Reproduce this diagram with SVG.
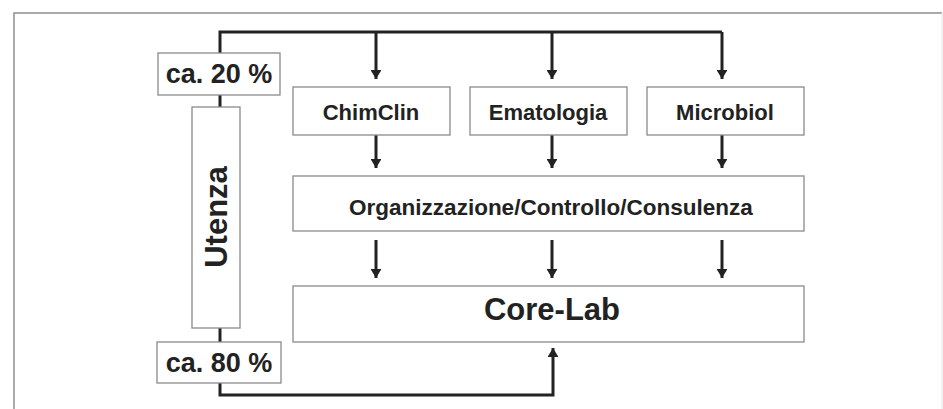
<svg xmlns="http://www.w3.org/2000/svg" width="943" height="409" viewBox="0 0 943 409">
<defs>
<style>
.box{fill:#fff;stroke:#8a8a8a;stroke-width:1.3}
.t{font-family:"Liberation Sans",Arial,sans-serif;font-weight:bold;fill:#222;text-anchor:middle}
.c{fill:none;stroke:#222;stroke-width:3}
</style>
<marker id="ah" viewBox="0 0 10 12" refX="10" refY="6" markerWidth="4" markerHeight="3.6" markerUnits="strokeWidth" orient="auto">
<path d="M0,0 L10,6 L0,12 z" fill="#222"/>
</marker>
</defs>
<rect width="943" height="409" fill="#fff"/>
<path d="M14,409 V13 H942" fill="none" stroke="#8f8f8f" stroke-width="1.5"/>
<path d="M942,13 V409" fill="none" stroke="#e4e4e4" stroke-width="1"/>
<g id="connectors">
<path class="c" d="M220,95 V32 H722"/>
<path class="c" d="M376,32 V79" marker-end="url(#ah)"/>
<path class="c" d="M552,32 V79" marker-end="url(#ah)"/>
<path class="c" d="M722,32 V79" marker-end="url(#ah)"/>
<path class="c" d="M376,135 V168" marker-end="url(#ah)"/>
<path class="c" d="M552,135 V168" marker-end="url(#ah)"/>
<path class="c" d="M722,135 V168" marker-end="url(#ah)"/>
<path class="c" d="M376,240 V278" marker-end="url(#ah)"/>
<path class="c" d="M552,240 V278" marker-end="url(#ah)"/>
<path class="c" d="M722,240 V278" marker-end="url(#ah)"/>
<path class="c" d="M220,95 V107"/>
<path class="c" d="M220,328 V342"/>
<path class="c" d="M220,383 V395 H553 V348" marker-end="url(#ah)"/>
</g>
<g id="n20"><rect class="box" x="158" y="53" width="122" height="42"/><text class="t" x="219" y="83" font-size="27">ca. 20 %</text></g>
<g id="utenza"><rect class="box" x="192" y="107" width="48" height="221"/><text class="t" transform="translate(227,217) rotate(-90)" font-size="31">Utenza</text></g>
<g id="n80"><rect class="box" x="157" y="342" width="124" height="41"/><text class="t" x="219" y="372" font-size="27">ca. 80 %</text></g>
<g id="chimclin"><rect class="box" x="293" y="87" width="157" height="48"/><text class="t" x="371" y="120" font-size="22">ChimClin</text></g>
<g id="ematologia"><rect class="box" x="470" y="87" width="157" height="48"/><text class="t" x="548" y="120" font-size="22">Ematologia</text></g>
<g id="microbiol"><rect class="box" x="647" y="87" width="157" height="48"/><text class="t" x="725" y="120" font-size="22">Microbiol</text></g>
<g id="org"><rect class="box" x="293" y="176" width="511" height="55"/><text class="t" x="551" y="215" font-size="22.5">Organizzazione/Controllo/Consulenza</text></g>
<g id="corelab"><rect class="box" x="293" y="286" width="511" height="56"/><text class="t" x="552" y="320" font-size="31">Core-Lab</text></g>
</svg>
